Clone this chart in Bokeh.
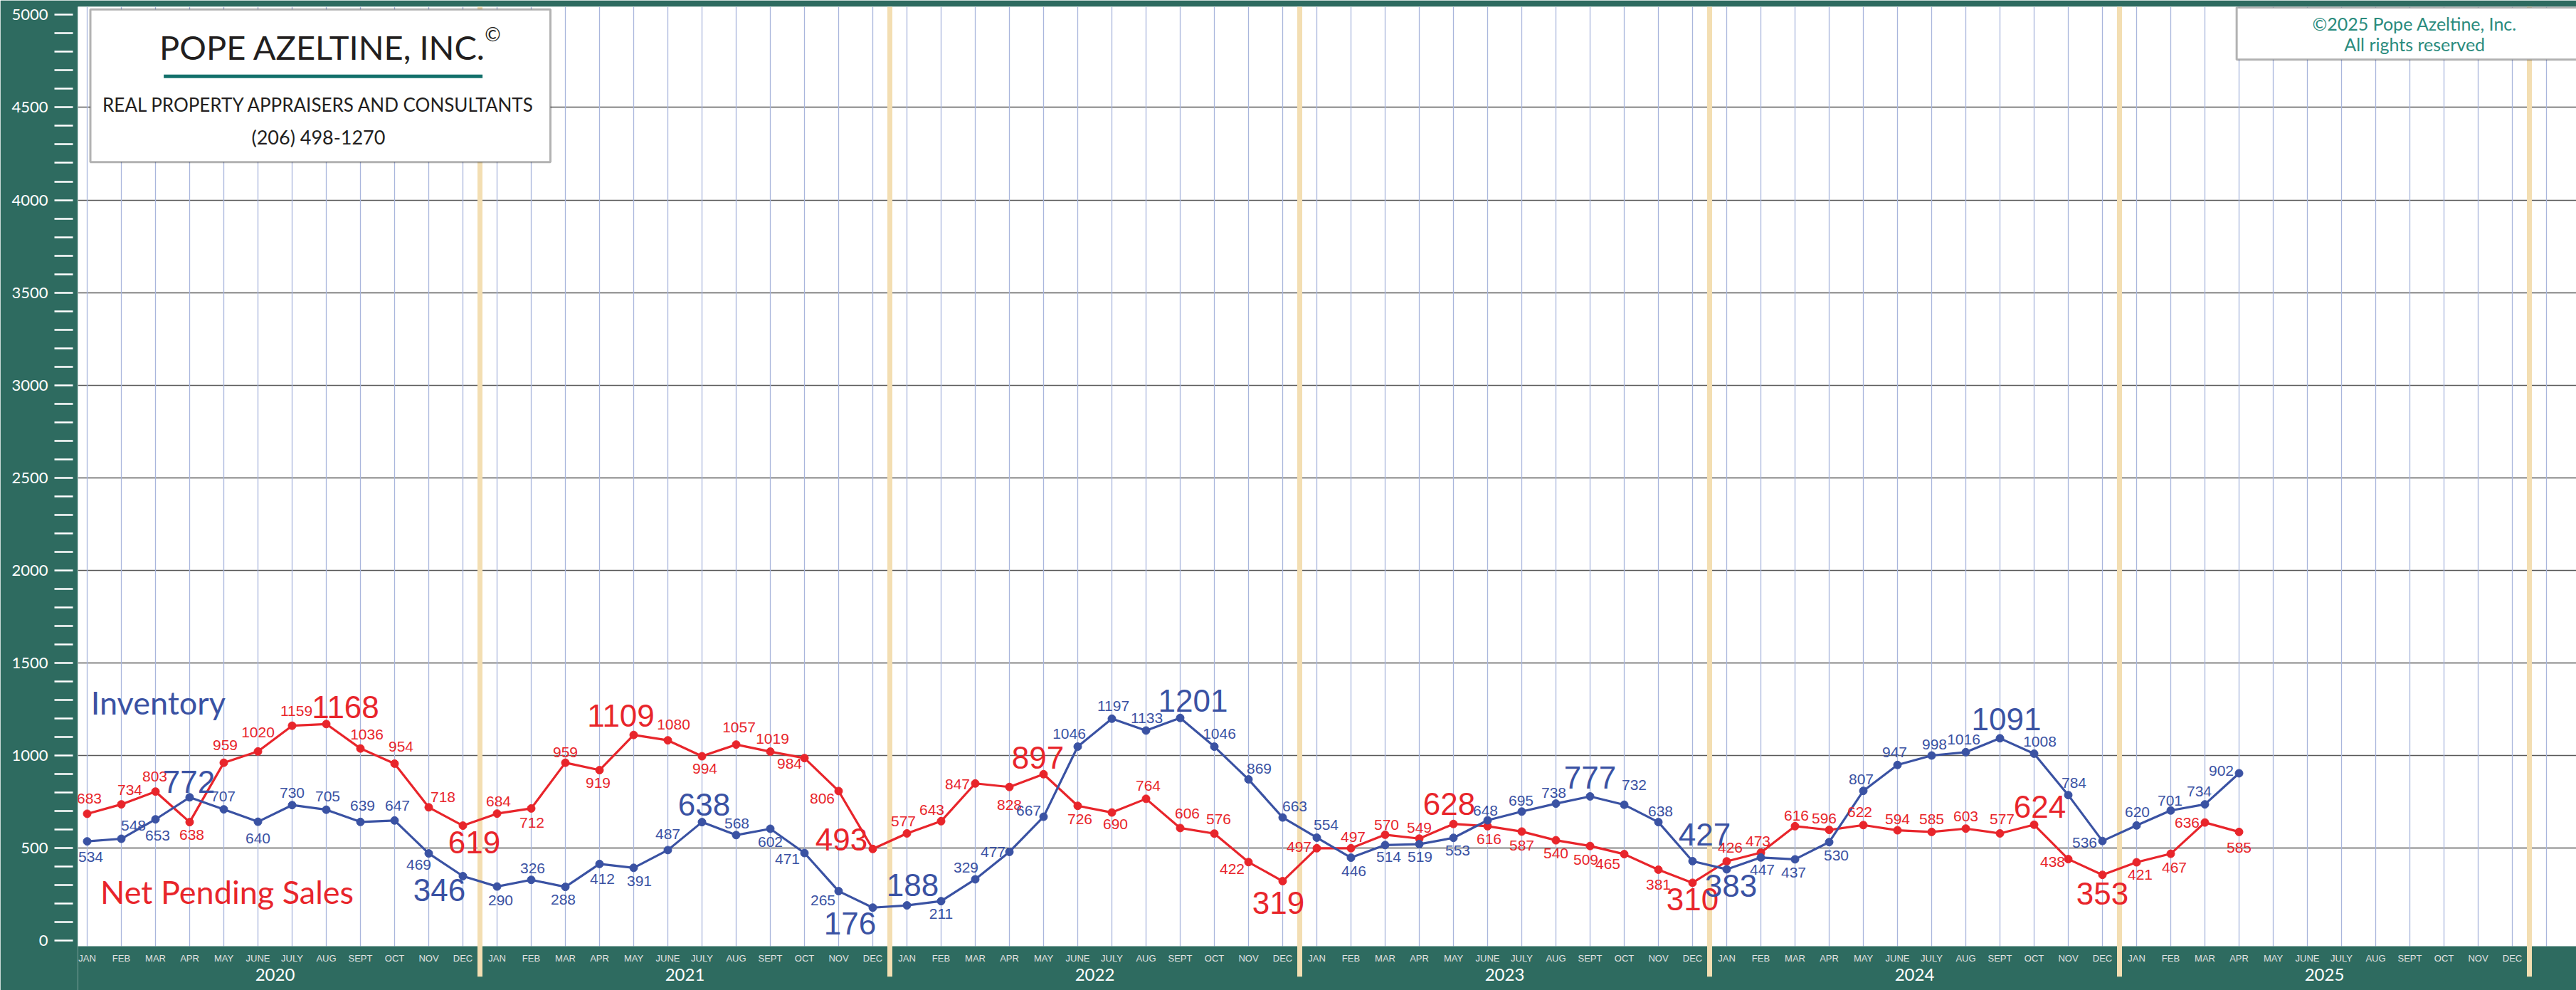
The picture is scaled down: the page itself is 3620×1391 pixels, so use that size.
from bokeh.plotting import figure
from bokeh.models import ColumnDataSource, LabelSet, Label, BoxAnnotation, FixedTicker, Range1d
from bokeh.embed import file_html
from bokeh.resources import INLINE
from bokeh.core.properties import value

# ---------------- data ----------------
months = ["JAN", "FEB", "MAR", "APR", "MAY", "JUNE", "JULY", "AUG", "SEPT", "OCT", "NOV", "DEC"]
years = ["2020", "2021", "2022", "2023", "2024", "2025"]

inventory = [534, 548, 653, 772, 707, 640, 730, 705, 639, 647, 469, 346,
             290, 326, 288, 412, 391, 487, 638, 568, 602, 471, 265, 176,
             188, 211, 329, 477, 667, 1046, 1197, 1133, 1201, 1046, 869, 663,
             554, 446, 514, 519, 553, 648, 695, 738, 777, 732, 638, 427,
             383, 447, 437, 530, 807, 947, 998, 1016, 1091, 1008, 784, 536,
             620, 701, 734, 902]

pending = [683, 734, 803, 638, 959, 1020, 1159, 1168, 1036, 954, 718, 619,
           684, 712, 959, 919, 1109, 1080, 994, 1057, 1019, 984, 806, 493,
           577, 643, 847, 828, 897, 726, 690, 764, 606, 576, 422, 319,
           497, 497, 570, 549, 628, 616, 587, 540, 509, 465, 381, 310,
           426, 473, 616, 596, 622, 594, 585, 603, 577, 624, 438, 353,
           421, 467, 636, 585]

# ---------------- styles (label placement in px, big-label flags) ----------------
inv_off = [(5, -22), (17, 19), (3, -23), (-1, 22), (-1, 18), (0, -23), (0, 17), (2, 19), (3, 23), (4, 21), (-14, -16), (-33, -19),
           (5, -19), (2, 16), (-3, -18), (4, -21), (8, -19), (0, 22), (3, 25), (1, 16), (0, -19), (-24, -8), (-22, -13), (-32, -22),
           (8, 29), (0, -18), (-13, 16), (-23, 0), (-21, 9), (-12, 18), (2, 18), (1, 17), (18, 24), (7, 18), (15, 15), (17, 16),
           (13, 18), (4, -19), (5, -17), (1, -18), (6, -18), (-3, 14), (-1, 15), (-3, 15), (0, 26), (14, 28), (3, 15), (17, 37),
           (6, -23), (2, -17), (-2, -19), (10, -19), (-3, 16), (-4, 18), (4, 16), (-3, 18), (9, 27), (8, 17), (8, 17), (-25, -2),
           (1, 19), (-1, 14), (-8, 18), (-25, 3)]
pen_off = [(3, 21), (12, 20), (-1, 21), (3, -18), (2, 25), (0, 27), (6, 21), (27, 24), (9, 20), (9, 24), (20, 14), (16, -23),
           (2, 17), (1, -20), (0, 15), (-2, -18), (-18, 27), (8, 22), (4, -17), (4, 24), (3, 18), (-21, -8), (-23, -11), (-44, 13),
           (-5, 17), (-13, 16), (-25, -1), (0, -25), (-8, 23), (3, -19), (5, -16), (3, 18), (10, 20), (6, 20), (-23, -10), (-6, -30),
           (-25, 2), (3, 16), (2, 14), (0, 15), (-6, 28), (2, -18), (0, -20), (0, -18), (-6, -19), (-23, -14), (0, -21), (0, -23),
           (5, 19), (-4, 16), (2, 15), (-7, 16), (-5, 18), (0, 16), (0, 18), (0, 17), (3, 20), (8, 25), (-22, -4), (0, -26),
           (5, -17), (5, -19), (-25, 0), (0, -22)]
inv_big = {3, 11, 18, 23, 24, 32, 44, 47, 48, 56}
pen_big = {7, 11, 16, 23, 28, 35, 40, 47, 57, 59}

GREEN = "#2E6B60"
BLUE = "#3A52A3"
RED = "#E8252B"
TAN = "#F3DEB2"
VGRID = "#A9B6DC"
NARROW = "Liberation Sans Narrow, Liberation Sans, sans-serif"
SANS = "Lato"

X0, X1 = -0.27083, 72.875
Y0, Y1 = -271.15, 5044.23
WHITE_BOTTOM = -32.7

n_months = len(months) * len(years)
idx = list(range(len(inventory)))

p = figure(width=3620, height=1391, output_backend="svg", toolbar_location=None,
           x_range=Range1d(X0, X1), y_range=Range1d(Y0, Y1),
           x_axis_location=None, y_axis_location="left",
           min_border_left=109, min_border_right=0, min_border_top=9, min_border_bottom=0,
           background_fill_color="white", border_fill_color=GREEN, outline_line_color=None)

# y axis
majors = list(range(0, 5001, 500))
minors = [v for v in range(100, 5000, 100) if v % 500]
ax = p.yaxis[0]
ax.ticker = FixedTicker(ticks=majors, minor_ticks=minors)
ax.axis_line_color = None
ax.major_tick_in = -7
ax.major_tick_out = 33
ax.minor_tick_in = -7
ax.minor_tick_out = 33
ax.major_tick_line_color = "white"
ax.minor_tick_line_color = "white"
ax.major_tick_line_width = 2.5
ax.minor_tick_line_width = 2.5
ax.major_label_text_color = "white"
ax.major_label_text_font = SANS
ax.major_label_text_font_size = "22px"
ax.major_label_standoff = 9

p.xgrid.visible = False
p.ygrid.ticker = FixedTicker(ticks=list(range(500, 5000, 500)))
p.ygrid.grid_line_color = "#5A5A5A"
p.ygrid.grid_line_width = 1.6

# month grid lines
grid_x = list(range(n_months + 1))
p.segment(x0=grid_x, y0=[WHITE_BOTTOM] * len(grid_x), x1=grid_x, y1=[Y1] * len(grid_x),
          line_color=VGRID, line_width=1.3)

# bottom band
p.quad(left=[X0 - 1], right=[X1 + 1], bottom=[Y0 - 10], top=[WHITE_BOTTOM], fill_color=GREEN, line_color=None)

# year separators
sep_x = [12 * k + 11.5 for k in range(len(years))]
p.segment(x0=sep_x, y0=[-197] * len(sep_x), x1=sep_x, y1=[Y1 + 10] * len(sep_x),
          line_color=TAN, line_width=7)

# month / year labels
mx = list(range(n_months))
mt = [months[i % 12] for i in mx]
p.text(x=mx, y=[-98] * n_months, text=mt, text_align="center", text_baseline="middle",
       text_color="#E2E2E2", text_font=value(NARROW), text_font_size=value("13px"))
yx = [12 * k + 5.5 for k in range(len(years))]
p.text(x=yx, y=[-188] * len(years), text=years, text_align="center", text_baseline="middle",
       text_color="white", text_font=value(SANS), text_font_size=value("24px"))

# series
p.line(idx, pending, line_color=RED, line_width=3.2)
p.scatter(idx, pending, size=11, fill_color=RED, line_color=RED)
p.line(idx, inventory, line_color=BLUE, line_width=3.2)
p.scatter(idx, inventory, size=11, fill_color=BLUE, line_color=BLUE)


def add_labels(vals, offs, big, color):
    src = ColumnDataSource(dict(
        x=idx, y=vals, text=[str(v) for v in vals],
        dx=[o[0] for o in offs], dy=[o[1] for o in offs],
        fs=["44px" if i in big else "21px" for i in idx]))
    ls = LabelSet(x="x", y="y", text="text", source=src, x_offset="dx", y_offset="dy",
                  text_align="center", text_baseline="middle", text_color=color,
                  text_font=value(NARROW), text_font_size="fs")
    p.add_layout(ls)


add_labels(pending, pen_off, pen_big, RED)
add_labels(inventory, inv_off, inv_big, BLUE)


def note(x, y, text, color, size, align="center"):
    p.add_layout(Label(x=x, y=y, text=text, text_color=color, text_font=SANS,
                       text_font_size=size, text_align=align, text_baseline="middle"))


# series names
note(0.108, 1283.8, "Inventory", BLUE, "45px", "left")
note(0.3875, 261.5, "Net Pending Sales", RED, "45px", "left")

# company box
p.add_layout(BoxAnnotation(left=0.094, right=13.5625, top=5030, bottom=4204.6,
                           fill_color="white", fill_alpha=1, line_color="black", line_width=3))
p.add_layout(BoxAnnotation(left=2.242, right=11.575, top=4677.7, bottom=4658.5,
                           fill_color="#13706B", fill_alpha=1, line_color=None))
note(6.892, 4825.8, "POPE AZELTINE, INC.", "#231F20", "47px")
note(11.875, 4898.1, "\u00a9", "#231F20", "27px")
note(6.785, 4516.2, "REAL PROPERTY APPRAISERS AND CONSULTANTS", "#231F20", "26px")
note(6.77, 4339.6, "(206) 498-1270", "#231F20", "27px")

# copyright box
p.add_layout(BoxAnnotation(left=62.93, right=X1 + 2, top=5040, bottom=4758.5,
                           fill_color="white", fill_alpha=1, line_color="black", line_width=3))
note(68.14, 4952.7, "\u00a92025 Pope Azeltine, Inc.", "#2A8B7D", "25px")
note(68.14, 4843.1, "All rights reserved", "#2A8B7D", "25px")

open("out.html", "w").write(file_html(p, INLINE))
